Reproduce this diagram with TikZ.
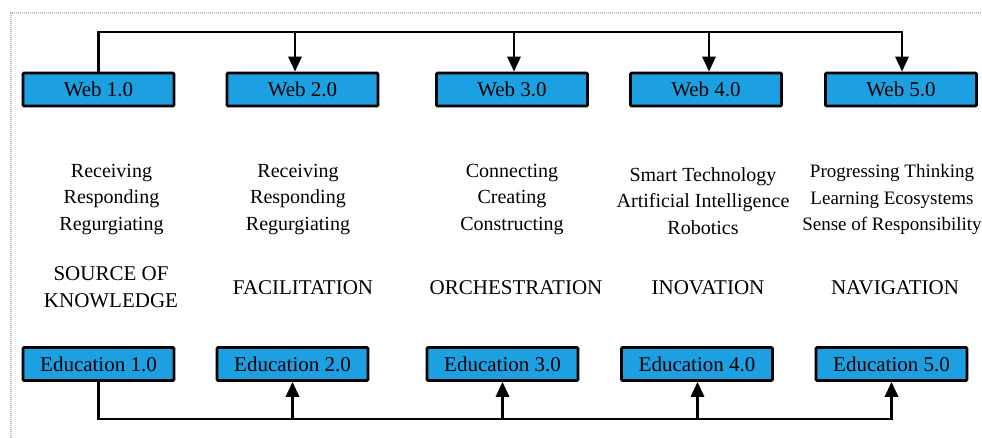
\documentclass[tikz,border=0pt]{standalone}
\usepackage{fontspec}
\setmainfont{Liberation Serif}
\usetikzlibrary{arrows.meta,positioning,calc}
\definecolor{boxblue}{RGB}{29,160,226}
\definecolor{framegray}{RGB}{190,190,190}
\tikzset{
  stage/.style={draw=black, line width=2.6pt, fill=boxblue, rounded corners=1pt,
    minimum width=151pt, minimum height=33pt, inner sep=0pt,
    font=\fontsize{21}{24}\selectfont},
  desc/.style={align=center, inner sep=0pt,
    font=\fontsize{20}{26.5}\selectfont},
  descsmall/.style={desc, font=\fontsize{19}{26.5}\selectfont},
  role/.style={align=center, inner sep=0pt,
    font=\fontsize{21}{27}\selectfont},
  link/.style={line width=2.8pt, draw=black},
  arr/.style={link, -{Triangle[length=15pt,width=13pt]}},
}
\begin{document}
\begin{tikzpicture}[x=1pt,y=-1pt]
\useasboundingbox (0,0) rectangle (982,438);
% dotted frame round the figure
\draw[framegray, line width=1.4pt, dash pattern=on 1pt off 1pt]
  (11,440) -- (11,13) -- (985,13);

% web generations
\node[stage] (w1) at (98.5,89.5) {Web 1.0};
\node[stage] (w2) at (302.5,89.5) {Web 2.0};
\node[stage] (w3) at (512,89.5) {Web 3.0};
\node[stage] (w4) at (706,89.5) {Web 4.0};
\node[stage] (w5) at (901,89.5) {Web 5.0};

% education generations
\node[stage] (e1) at (98.5,364) {Education 1.0};
\node[stage] (e2) at (292.5,364) {Education 2.0};
\node[stage] (e3) at (502.5,364) {Education 3.0};
\node[stage] (e4) at (697,364) {Education 4.0};
\node[stage] (e5) at (891.5,364) {Education 5.0};

% activities of each stage
\node[desc] (d1) at (111.5,199.5) {Receiving\\Responding\\Regurgiating};
\node[desc] (d2) at (298,199.5) {Receiving\\Responding\\Regurgiating};
\node[desc] (d3) at (512,199.5) {Connecting\\Creating\\Constructing};
\node[desc] (d4) at (703,201) {Smart Technology\\Artificial Intelligence\\Robotics};
\node[descsmall] (d5) at (892,199.5) {Progressing Thinking\\Learning Ecosystems\\Sense of Responsibility};

% role of each stage
\node[role] (r1) at (111,287) {SOURCE OF\\KNOWLEDGE};
\node[role] (r2) at (303,288) {FACILITATION};
\node[role] (r3) at (516,288) {ORCHESTRATION};
\node[role] (r4) at (708,288) {INOVATION};
\node[role] (r5) at (895,288) {NAVIGATION};

% top bus feeding the web stages
\coordinate (topbus) at (0,32);
\draw[arr] (w1.north) |- ([xshift=1pt]topbus -| w5.north) -- ([xshift=1pt]w5.north);
\draw[arr] ([xshift=-7.5pt]topbus -| w2.north) -- ([xshift=-7.5pt]w2.north);
\draw[arr] ([xshift=2pt]topbus -| w3.north) -- ([xshift=2pt]w3.north);
\draw[arr] ([xshift=3pt]topbus -| w4.north) -- ([xshift=3pt]w4.north);

% bottom bus feeding the education stages
\coordinate (botbus) at (0,419);
\draw[arr] (e1.south) |- (botbus -| e5.south) -- (e5.south);
\draw[arr] (botbus -| e2.south) -- (e2.south);
\draw[arr] (botbus -| e3.south) -- (e3.south);
\draw[arr] ([xshift=0.5pt]botbus -| e4.south) -- ([xshift=0.5pt]e4.south);
\end{tikzpicture}
\end{document}
